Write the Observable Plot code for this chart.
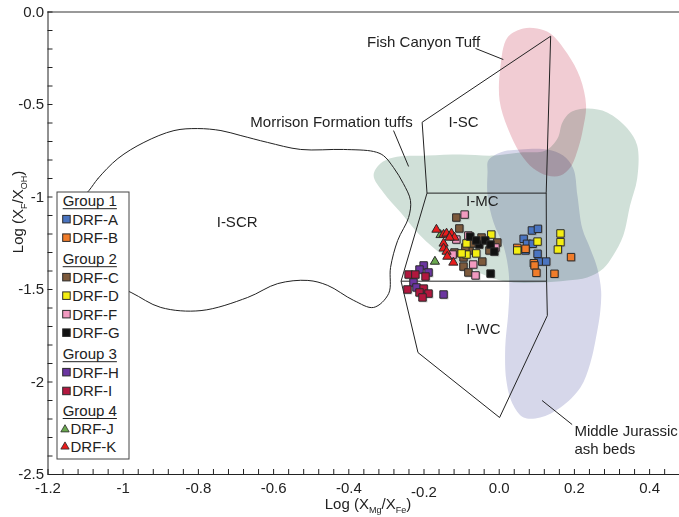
<!DOCTYPE html>
<html><head><meta charset="utf-8">
<script src="https://cdn.jsdelivr.net/npm/d3@7"></script>
<script src="https://cdn.jsdelivr.net/npm/@observablehq/plot@0.6"></script>
<style>
body{margin:0;background:#fff;font-family:"Liberation Sans",Arial,sans-serif;}
#chart{width:679px;height:517px;}
</style></head><body><div id="chart"></div>
<script>
// ---- tick labels ----
const xTicks = [-1.2,-1,-0.8,-0.6,-0.4,-0.2,0,0.2,0.4];
const xTickLabels = ["-1.2","-1","-0.8","-0.6","-0.4","-0.2","0.0","0.2","0.4"];
const yTicks = [0,-0.5,-1,-1.5,-2,-2.5];
const yTickLabels = ["0.0","-0.5","-1","-1.5","-2","-2.5"];

// ---- samples ----
const sampleNames = ["DRF-A","DRF-B","DRF-C","DRF-D","DRF-F","DRF-G","DRF-H","DRF-I","DRF-J","DRF-K"];
const sampleColors = ["#4a74c0","#f07c2a","#7d5a3c","#f4ee12","#f29ac0","#111111","#6b35a0","#b2173e","#6aa84f","#e81c1c"];
const sampleShapes = ["square","square","square","square","square","square","square","square","triangle","triangle"];
const groupNames = ["Group 1","Group 2","Group 3","Group 4"];
const groupMembers = [["DRF-A","DRF-B"],["DRF-C","DRF-D","DRF-F","DRF-G"],["DRF-H","DRF-I"],["DRF-J","DRF-K"]];

const DRF_A = [[0.087,-1.181],[0.103,-1.172],[0.065,-1.226],[0.074,-1.253],[0.089,-1.253],[0.070,-1.289],[0.102,-1.307],[0.105,-1.349],[0.125,-1.349]];
const DRF_B = [[0.048,-1.275],[0.070,-1.280],[0.092,-1.358],[0.094,-1.370],[0.099,-1.410],[0.191,-1.325],[0.147,-1.415]];
const DRF_C = [[-0.114,-1.111],[-0.106,-1.170],[-0.047,-1.219],[-0.005,-1.246],[-0.079,-1.289],[-0.119,-1.300],[-0.095,-1.376],[-0.045,-1.349],[-0.082,-1.408],[-0.090,-1.273],[-0.095,-1.327],[-0.026,-1.289],[-0.074,-1.251]];
const DRF_D = [[-0.021,-1.203],[-0.087,-1.251],[-0.061,-1.305],[-0.087,-1.311],[-0.100,-1.305],[0.048,-1.289],[0.102,-1.241],[0.163,-1.197],[0.163,-1.244],[0.156,-1.284]];
const DRF_F = [[-0.092,-1.095],[-0.114,-1.230],[-0.069,-1.365],[-0.063,-1.424],[-0.010,-1.273],[-0.124,-1.311],[-0.082,-1.208]];
const DRF_G = [[-0.077,-1.214],[-0.053,-1.257],[-0.037,-1.235],[-0.023,-1.257],[-0.013,-1.295],[-0.023,-1.414],[-0.061,-1.235]];
const DRF_H = [[-0.201,-1.370],[-0.188,-1.408],[-0.228,-1.462],[-0.220,-1.489],[-0.148,-1.527],[-0.212,-1.392]];
const DRF_I = [[-0.241,-1.419],[-0.223,-1.419],[-0.196,-1.430],[-0.244,-1.500],[-0.201,-1.495],[-0.212,-1.516],[-0.188,-1.522],[-0.204,-1.543]];
const DRF_J = [[-0.156,-1.205],[-0.171,-1.349]];
const DRF_K = [[-0.167,-1.176],[-0.148,-1.203],[-0.140,-1.197],[-0.127,-1.197],[-0.119,-1.219],[-0.148,-1.251],[-0.148,-1.278],[-0.140,-1.295],[-0.138,-1.322],[-0.122,-1.354],[-0.132,-1.219]];
const sampleData = [DRF_A,DRF_B,DRF_C,DRF_D,DRF_F,DRF_G,DRF_H,DRF_I,DRF_J,DRF_K];

// ---- reference fields ----
const fieldMorrison = [[-0.334,-0.884],[-0.316,-0.819],[-0.281,-0.786],[-0.191,-0.776],[-0.103,-0.770],[-0.015,-0.776],[0.056,-0.759],[0.123,-0.749],[0.155,-0.684],[0.168,-0.597],[0.189,-0.543],[0.234,-0.522],[0.287,-0.543],[0.341,-0.630],[0.367,-0.722],[0.367,-0.900],[0.348,-1.046],[0.330,-1.208],[0.303,-1.316],[0.277,-1.386],[0.234,-1.435],[0.181,-1.451],[0.109,-1.462],[0.038,-1.462],[-0.015,-1.441],[-0.077,-1.386],[-0.148,-1.316],[-0.210,-1.208],[-0.262,-1.084],[-0.308,-0.976]];
const fieldFishCanyon = [[0.064,-0.089],[0.022,-0.138],[0.003,-0.300],[0.001,-0.478],[0.022,-0.624],[0.056,-0.765],[0.091,-0.846],[0.128,-0.884],[0.163,-0.884],[0.189,-0.841],[0.210,-0.738],[0.223,-0.630],[0.231,-0.505],[0.215,-0.354],[0.181,-0.224],[0.136,-0.116],[0.101,-0.089]];
const fieldJurassic = [[-0.031,-0.868],[-0.029,-0.803],[0.003,-0.759],[0.056,-0.743],[0.128,-0.743],[0.170,-0.776],[0.197,-0.846],[0.208,-0.992],[0.221,-1.170],[0.242,-1.278],[0.261,-1.386],[0.271,-1.505],[0.269,-1.614],[0.261,-1.722],[0.242,-1.900],[0.216,-2.030],[0.163,-2.138],[0.109,-2.192],[0.065,-2.192],[0.035,-2.116],[0.019,-1.992],[0.016,-1.814],[0.024,-1.630],[0.027,-1.495],[0.024,-1.386],[0.011,-1.262],[-0.015,-1.138],[-0.031,-0.992]];
const fieldISCR = [[-1.091,-0.965],[-1.067,-0.900],[-1.014,-0.792],[-0.945,-0.705],[-0.865,-0.641],[-0.802,-0.630],[-0.740,-0.641],[-0.687,-0.668],[-0.616,-0.705],[-0.528,-0.743],[-0.414,-0.743],[-0.334,-0.754],[-0.308,-0.776],[-0.281,-0.841],[-0.255,-0.927],[-0.236,-1.019],[-0.241,-1.111],[-0.270,-1.235],[-0.289,-1.381],[-0.294,-1.522],[-0.334,-1.597],[-0.387,-1.559],[-0.456,-1.478],[-0.509,-1.451],[-0.589,-1.468],[-0.669,-1.543],[-0.793,-1.614],[-0.900,-1.597],[-0.979,-1.516],[-1.059,-1.441],[-1.125,-1.343],[-1.160,-1.208],[-1.139,-1.073]];
const fieldOutline = [[0.136,-0.132],[-0.205,-0.596],[-0.192,-0.979],[-0.261,-1.455],[-0.216,-1.841],[0.001,-2.192],[0.128,-1.641],[0.126,-1.455],[0.125,-0.979]];
const fieldDividers = [[-0.192,-0.979,0.125,-0.979],[-0.261,-1.455,0.126,-1.455]];
const leaderLines = [[-0.063,-0.197,0.011,-0.257],[-0.281,-0.641,-0.241,-0.835],[0.114,-2.100,0.194,-2.230]];
const fieldLabels = [["I-SCR",-0.697,-1.138],["I-SC",-0.095,-0.597],["I-MC",-0.045,-1.024],["I-WC",-0.042,-1.716],["Morrison Formation tuffs",-0.446,-0.597],["Fish Canyon Tuff",-0.201,-0.165]];
const sideLabels = [["Middle Jurassic",0.200,-2.268],["ash beds",0.200,-2.365]];

// ---- build table ----
const points = sampleData.flatMap((arr, i) => arr.map(([x, y]) => ({x, y, sample: sampleNames[i], shape: sampleShapes[i]})));
const squares = points.filter(d => d.shape === "square");
const triangles = points.filter(d => d.shape === "triangle");
const xMinor = d3.range(0, 42).map(i => -1.2 + i * 0.04);
const yMinor = d3.range(0, 26).map(i => -i * 0.1);
const fmtX = v => xTickLabels[xTicks.indexOf(v)];
const fmtY = v => yTickLabels[yTicks.indexOf(v)];
const X = d => d[0], Y = d => d[1];
const FONT = "Liberation Sans, Arial, sans-serif";

const plot = Plot.plot({
  width: 679, height: 517,
  marginLeft: 47.5, marginRight: 0, marginTop: 11.5, marginBottom: 43,
  x: {domain: [-1.2, 0.4795]},
  y: {domain: [-2.5, 0]},
  color: {domain: sampleNames, range: sampleColors},
  style: {fontFamily: FONT, fontSize: "15px", color: "#222", background: "#fff"},
  marks: [
    Plot.line(fieldMorrison, {x: X, y: Y, curve: "catmull-rom-closed", fill: "#d0e0d8", stroke: "none", mixBlendMode: "multiply"}),
    Plot.line(fieldJurassic, {x: X, y: Y, curve: "catmull-rom-closed", fill: "#d6d7ea", stroke: "none", mixBlendMode: "multiply"}),
    Plot.line(fieldFishCanyon, {x: X, y: Y, curve: "catmull-rom-closed", fill: "#f1ccd3", stroke: "none", mixBlendMode: "multiply"}),
    Plot.line(fieldISCR, {x: X, y: Y, curve: "catmull-rom-closed", stroke: "#222", strokeWidth: 1}),
    Plot.line(fieldOutline, {x: X, y: Y, curve: "linear-closed", stroke: "#222", strokeWidth: 1}),
    Plot.link(fieldDividers, {x1: d => d[0], y1: d => d[1], x2: d => d[2], y2: d => d[3], stroke: "#222", strokeWidth: 1}),
    Plot.link(leaderLines, {x1: d => d[0], y1: d => d[1], x2: d => d[2], y2: d => d[3], stroke: "#222", strokeWidth: 1}),
    Plot.text(fieldLabels, {x: d => d[1], y: d => d[2], text: d => d[0], fontSize: 15, fill: "#222"}),
    Plot.text(sideLabels, {x: d => d[1], y: d => d[2], text: d => d[0], fontSize: 15, fill: "#222", textAnchor: "start"}),
    // frame
    Plot.ruleY([0], {stroke: "#777", strokeWidth: 1.3}),
    Plot.ruleX([-1.2], {stroke: "#222", strokeWidth: 1}),
    Plot.ruleY([-2.5], {stroke: "#222", strokeWidth: 1}),
    Plot.ruleX(xMinor, {y1: -2.5, y2: -2.473, stroke: "#222", strokeWidth: 1}),
    Plot.ruleY(yMinor, {x1: -1.2, x2: -1.1867, stroke: "#222", strokeWidth: 1}),
    Plot.axisX(xTicks.filter(v => v !== -0.2), {tickSize: 0, tickPadding: 8, tickFormat: fmtX, fontSize: 15, label: null}),
    Plot.axisX([-0.2], {tickSize: 0, tickPadding: 11.5, tickFormat: fmtX, fontSize: 15, label: null}),
    Plot.axisY(yTicks, {tickSize: 0, tickPadding: 4, tickFormat: fmtY, fontSize: 15, label: null}),
    // samples
    Plot.dot(squares, {x: "x", y: "y", symbol: "square", r: 4.4, fill: "#8a8a8a", fillOpacity: 0.5, dx: 1, dy: 1}),
    Plot.dot(squares, {x: "x", y: "y", symbol: "square", r: 4.2, fill: "sample", stroke: "#2a2a2a", strokeWidth: 1}),
    Plot.dot(triangles, {x: "x", y: "y", symbol: "triangle", r: 3.4, fill: "sample", stroke: "#2a2a2a", strokeWidth: 1})
  ]
});
document.getElementById("chart").appendChild(plot);

// ---- axis titles with subscripts ----
const svg = d3.select(plot);
const xt = svg.append("text").attr("x", 368).attr("y", 508.5).attr("text-anchor", "middle")
  .attr("font-family", FONT).attr("font-size", 15).attr("fill", "#222");
xt.append("tspan").text("Log (X");
xt.append("tspan").attr("font-size", 9).attr("dy", 4).text("Mg");
xt.append("tspan").attr("dy", -4).text("/X");
xt.append("tspan").attr("font-size", 9).attr("dy", 4).text("Fe");
xt.append("tspan").attr("dy", -4).text(")");

const yt = svg.append("text").attr("transform", "translate(22.5,212) rotate(-90)").attr("text-anchor", "middle")
  .attr("font-family", FONT).attr("font-size", 15).attr("fill", "#222");
yt.append("tspan").text("Log (X");
yt.append("tspan").attr("font-size", 9).attr("dy", 4).text("F");
yt.append("tspan").attr("dy", -4).text("/X");
yt.append("tspan").attr("font-size", 9).attr("dy", 4).text("OH");
yt.append("tspan").attr("dy", -4).text(")");

// ---- legend ----
const lg = svg.append("g").attr("font-family", FONT).attr("font-size", 15).attr("fill", "#222").attr("text-anchor", "start");
lg.append("rect").attr("x", 57).attr("y", 192).attr("width", 72).attr("height", 267)
  .attr("fill", "#fff").attr("stroke", "#444").attr("stroke-width", 1);
const itemStep = [18.5, 18.5, 18.8, 17.2];
const headerGap = [21, 21, 19.5, 0];
let ly = 200.7;
groupNames.forEach((g, gi) => {
  const t = lg.append("text").attr("x", 62.7).attr("y", ly).attr("dy", "0.36em").attr("text-anchor", "start").text(g);
  const w = t.node().getComputedTextLength();
  lg.append("line").attr("x1", 62.7).attr("x2", 62.7 + w).attr("y1", ly + 8).attr("y2", ly + 8)
    .attr("stroke", "#222").attr("stroke-width", 1);
  ly += 18.5;
  groupMembers[gi].forEach((name, k) => {
    const i = sampleNames.indexOf(name);
    if (sampleShapes[i] === "square") {
      lg.append("rect").attr("x", 62.7).attr("y", ly - 3.8).attr("width", 7.5).attr("height", 7.5)
        .attr("fill", sampleColors[i]).attr("stroke", "#2a2a2a").attr("stroke-width", 1);
      lg.append("text").attr("x", 72.2).attr("y", ly).attr("dy", "0.36em").attr("text-anchor", "start").text(name);
    } else {
      lg.append("path").attr("transform", `translate(65,${ly + 0.5})`)
        .attr("d", d3.symbol(d3.symbolTriangle, 30)())
        .attr("fill", sampleColors[i]).attr("stroke", "#2a2a2a").attr("stroke-width", 0.8);
      lg.append("text").attr("x", 70.5).attr("y", ly).attr("dy", "0.36em").attr("text-anchor", "start").text(name);
    }
    if (k < groupMembers[gi].length - 1) ly += itemStep[gi];
  });
  ly += headerGap[gi];
});
</script></body></html>
